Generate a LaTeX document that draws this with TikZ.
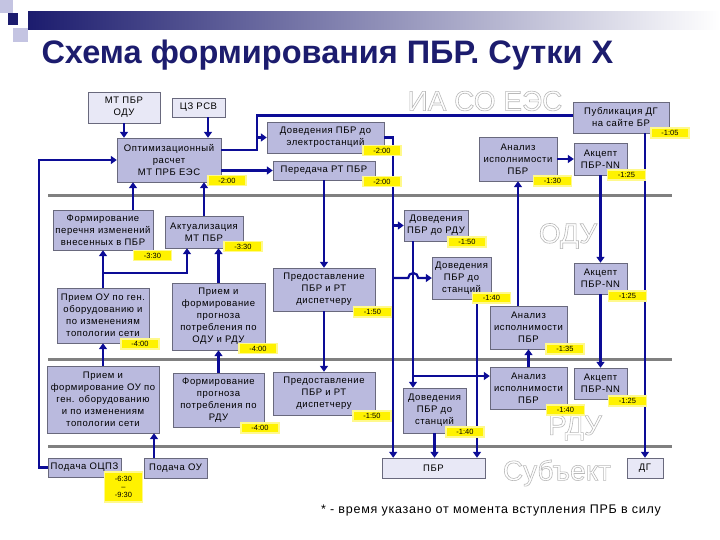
\documentclass[tikz,border=0pt]{standalone}
\usepackage{fontspec}
\setmainfont{Liberation Sans}
\newfontfamily\boxfont[LetterSpace=6]{Liberation Sans}
\usetikzlibrary{arrows.meta}
\definecolor{lincol}{RGB}{12,12,150}
\definecolor{boxfill}{RGB}{186,186,222}
\definecolor{boxlight}{RGB}{232,232,246}
\definecolor{boxline}{RGB}{105,105,125}
\definecolor{sepcol}{RGB}{128,128,128}
\definecolor{titcol}{RGB}{28,28,110}
\definecolor{decol}{RGB}{196,196,226}
\newcommand{\outl}[1]{\special{pdf:literal direct 2 Tr 0.6 w 1 g}#1\special{pdf:literal direct 0 Tr}}

\begin{document}
\begin{tikzpicture}[x=1pt, y=-1pt,
    blk/.style={draw=boxline, fill=boxfill, align=center, inner sep=1pt,
      font=\boxfont\fontsize{9.5}{12}\selectfont},
    lblk/.style={blk, fill=boxlight},
    sz/.style 2 args={minimum width=#1pt, minimum height=#2pt},
    tm/.style={fill=yellow, draw=yellow!45, line width=1.2pt, inner sep=0pt,
      minimum width=38pt, minimum height=10pt, align=center,
      font=\fontsize{7.5}{8}\selectfont},
    arr/.style={-{Triangle[length=6pt,width=8pt]}, line width=2.2pt, lincol},
    ln/.style={line width=2.2pt, lincol},
    sep/.style={line width=3pt, sepcol},
    wmark/.style={font=\fontsize{28}{30}\selectfont, text=gray!55}
  ]
  \useasboundingbox (0,0) rectangle (720,540);

  %% Header decoration and title
  \fill[decol] (0,0) rectangle (13,13);
  \fill[decol] (13,28) rectangle (28,42);
  \fill[titcol] (8,13) rectangle (18,25);
  \shade[left color=titcol, right color=white] (28,12) rectangle (720,30);
  \node[anchor=west, font=\bfseries\fontsize{32.5}{38}\selectfont,
    text=titcol] (title) at (38,55) {Схема формирования ПБР. Сутки Х};

  %% Separators
  \foreach \sy in {196, 359, 446}{
    \draw[sep] (48,\sy) -- (672,\sy);
  }

  %% Watermarks
  \foreach \wx/\wy/\wt in {485/101/ИА СО ЕЭС, 568/236/ОДУ, 575/428/РДУ, 557/473/Субъект}{
    \node[wmark] at (\wx,\wy) {\outl{\wt}};
  }

  %% Left column
  \node[lblk, sz={72}{31}] (mtodu) at (124,107.5) {МТ ПБР\\ОДУ};
  \node[lblk, sz={53}{19}] (czrsv) at (198.5,107.5) {ЦЗ РСВ};
  \node[blk, sz={104}{44}] (opt) at (169,160) {Оптимизационный\\расчет\\МТ ПРБ ЕЭС};
  \node[blk, sz={100}{40}] (formper) at (103,230) {Формирование\\перечня изменений\\внесенных в ПБР};
  \node[blk, sz={78}{32}] (aktual) at (204,232) {Актуализация\\МТ ПБР};
  \node[blk, sz={92}{55}] (priemou) at (103,315.5) {Прием ОУ по ген.\\оборудованию и\\по изменениям\\топологии сети};
  \node[blk, sz={93}{67}] (priemprog) at (218.5,316.5) {Прием и\\формирование\\прогноза\\потребления по\\ОДУ и РДУ};
  \node[blk, sz={112}{67}] (priemform) at (103,399.5) {Прием и\\формирование ОУ по\\ген. оборудованию\\и по изменениям\\топологии сети};
  \node[blk, sz={91}{54}] (formprog) at (218.5,400) {Формирование\\прогноза\\потребления по\\РДУ};
  \node[blk, sz={73}{19}] (podocpz) at (84.5,467.5) {Подача ОЦПЗ};
  \node[blk, sz={63}{20}] (podou) at (175.5,468) {Подача ОУ};

  %% Middle column
  \node[blk, sz={117}{31}] (dovel) at (325.5,137.5) {Доведения ПБР до\\электростанций};
  \node[blk, sz={102}{19}] (pered) at (324,170.5) {Передача РТ ПБР};
  \node[blk, sz={64}{31}] (dovrdu) at (436,225.5) {Доведения\\ПБР до РДУ};
  \node[blk, sz={59}{42}] (dovst1) at (461.5,278) {Доведения\\ПБР до\\станций};
  \node[blk, sz={102}{43}] (predodu) at (324,289.5) {Предоставление\\ПБР и РТ\\диспетчеру};
  \node[blk, sz={102}{43}] (predrdu) at (324,393.5) {Предоставление\\ПБР и РТ\\диспетчеру};
  \node[blk, sz={63}{45}] (dovst2) at (434.5,410.5) {Доведения\\ПБР до\\станций};
  \node[lblk, sz={103}{20}] (pbr) at (433.5,468) {ПБР};

  %% Right column
  \node[blk, sz={96}{31}] (publ) at (621,117.5) {Публикация ДГ\\на сайте БР};
  \node[blk, sz={78}{44}] (anlia) at (518,159) {Анализ\\исполнимости\\ПБР};
  \node[blk, sz={53}{32}] (akia) at (600.5,159) {Акцепт\\ПБР-NN};
  \node[blk, sz={53}{31}] (akodu) at (600.5,278.5) {Акцепт\\ПБР-NN};
  \node[blk, sz={77}{43}] (anlodu) at (528.5,327.5) {Анализ\\исполнимости\\ПБР};
  \node[blk, sz={77}{42}] (anlrdu) at (528.5,388) {Анализ\\исполнимости\\ПБР};
  \node[blk, sz={53}{31}] (akrdu) at (600.5,383.5) {Акцепт\\ПБР-NN};
  \node[lblk, sz={36}{20}] (dg) at (645,468) {ДГ};

  %% Connections into the optimisation
  \draw[arr] (mtodu) -- (mtodu |- opt.north);
  \draw[arr] ([xshift=9.5pt]czrsv.south) -- ([xshift=9.5pt]czrsv.south |- opt.north);
  \draw[arr] ([xshift=30pt]formper.north) -- ([xshift=30pt]formper.north |- opt.south);
  \draw[arr] (aktual.north) -- (aktual.north |- opt.south);
  \draw[arr] (podocpz.west) -- ++(-9,0) |- (opt.west);

  %% Lower left chain
  \draw[arr] (priemou) -- (formper);
  \draw[arr] (priemou.north) -- ++(0,-15) -| ([xshift=-17pt]aktual.south);
  \draw[arr] (priemprog.north) -- (priemprog.north |- aktual.south);
  \draw[arr] (priemform) -- (priemou);
  \draw[arr] (formprog) -- (priemprog);
  \draw[arr] ([xshift=-21.5pt]podou.north) -- ([xshift=-21.5pt]podou.north |- priemform.south);

  %% Optimisation outputs
  \coordinate (jopt) at ([xshift=36pt, yshift=10pt]opt.east);
  \draw[ln] ([yshift=10pt]opt.east) -- (jopt) |- ([yshift=2pt]publ.west);
  \draw[arr] (jopt |- dovel.west) -- (dovel.west);
  \draw[arr] (opt.east |- pered.west) -- (pered.west);
  \draw[arr] (pered) -- (predodu);
  \draw[arr] (predodu) -- (predrdu);

  %% Delivery of the PBR
  \draw[arr] (dovel.east) -- ++(9,0) coordinate (jdov) -- (jdov |- pbr.north);
  \draw[arr] (jdov |- dovrdu.west) -- (dovrdu.west);
  \draw[arr] ([xshift=-23pt]dovrdu.south) -- ([xshift=-23pt]dovrdu.south |- dovst2.north);
  \draw[arr] (jdov |- dovst1.west) -- ++(15,0) arc[start angle=180, end angle=0, radius=5pt] -- (dovst1.west);
  \coordinate (jrdu) at (413,376);
  \draw[arr] (jrdu) -- (jrdu -| anlrdu.west);
  \draw[arr] ([xshift=15.5pt]dovst1.south) -- ([xshift=15.5pt]dovst1.south |- pbr.north);
  \draw[arr] (dovst2) -- (dovst2 |- pbr.north);

  %% Analysis and acceptance
  \draw[arr] (anlia) -- (akia);
  \draw[arr] (akia) -- (akodu);
  \draw[arr] (akodu) -- (akrdu);
  \draw[arr] (anlrdu) -- (anlodu);
  \draw[arr] (anlia.south |- anlodu.north) -- (anlia.south);
  \draw[arr] (dg |- publ.south) -- (dg.north);

  %% Time marks
  \foreach \px/\py/\nm/\tx in {227/180.5/topt/-2:00, 152.5/255.5/tformper/-3:30,
      243/246.5/taktual/-3:30, 140/344/tpriemou/-4:00, 258/348.5/tpriemprog/-4:00,
      260/428/tformprog/-4:00, 382/150.5/tdovel/-2:00, 382/181.5/tpered/-2:00,
      467/242/tdovrdu/-1:50, 491.5/298/tdovst1/-1:40, 372.5/312/tpredodu/-1:50,
      372/416/tpredrdu/-1:50, 465/432/tdovst2/-1:40, 670/133/tpubl/-1:05,
      552.5/181/tanlia/-1:30, 626.5/175/takia/-1:25, 627.5/296/takodu/-1:25,
      565/349/tanlodu/-1:35, 565.5/410/tanlrdu/-1:40, 627.5/401/takrdu/-1:25}{
    \node[tm] (\nm) at (\px,\py) {\tx};
  }
  \node[tm, minimum height=30pt] (tpodocpz) at (123.5,487) {-6:30\\–\\-9:30};

  %% Footnote
  \node[font=\boxfont\fontsize{12.5}{14}\selectfont] (fnote) at (491,510)
    {* - время указано от момента вступления ПРБ в силу};

\end{tikzpicture}
\end{document}
